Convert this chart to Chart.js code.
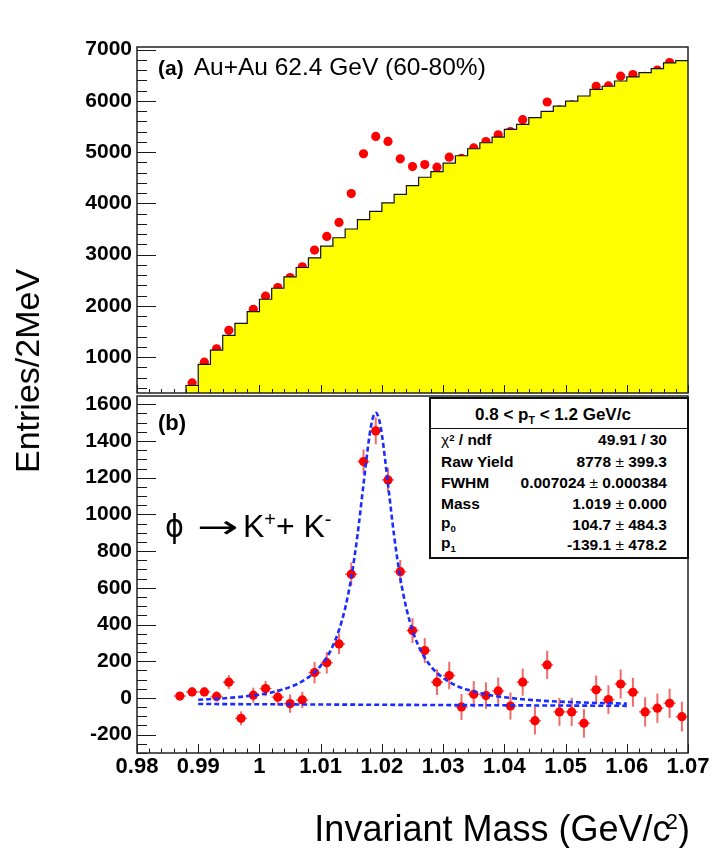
<!DOCTYPE html>
<html>
<head>
<meta charset="utf-8">
<script src="https://cdn.jsdelivr.net/npm/chart.js@4.4.0/dist/chart.umd.min.js"></script>
<style>
  body { margin: 0; background: #fff; }
  #wrap { position: relative; width: 712px; height: 848px; overflow: hidden;
          font-family: "Liberation Sans", Arial, Helvetica, sans-serif; color: #000; }
  canvas { position: absolute; left: 0; top: 0; }
  .txt { position: absolute; white-space: nowrap; line-height: 1; }
  .sup { font-size: 0.62em; position: relative; top: -0.55em; }
  .sub { font-size: 0.62em; position: relative; top: 0.4em; }
  #stats { position: absolute; left: 429px; top: 397px; width: 260px; height: 162px;
           box-sizing: border-box; border: 2px solid #111; background: #fff; font-weight: bold; }
  #stats .title { position: absolute; left: 0; right: 12px; top: 7px; text-align: center; font-size: 17px; line-height: 1; white-space: nowrap; }
  #stats .sep { position: absolute; left: 0; right: 0; top: 29px; border-top: 1.5px solid #111; }
  #stats .row { position: absolute; left: 10px; right: 20px; font-size: 15.5px; line-height: 1; white-space: nowrap; }
  #stats .row .v { position: absolute; right: 0; top: 0; }
  #stats .pm { font-weight: normal; }
</style>
</head>
<body>
<div id="wrap">
  <canvas id="topPanel" width="712" height="848"></canvas>
  <canvas id="bottomPanel" width="712" height="848"></canvas>

  <div class="txt" style="left:158px; top:55px; font-size:24.5px;"><b style="font-size:21px;">(a)</b><span style="margin-left:10px;">Au+Au 62.4 GeV (60-80%)</span></div>
  <div class="txt" style="left:158px; top:412px; font-size:22px; font-weight:bold;">(b)</div>
  <div class="txt" style="left:165px; top:510px; font-size:32px; font-family:'DejaVu Sans', sans-serif; transform:scaleX(0.9); transform-origin:left;">ϕ</div>
  <div class="txt" style="left:197px; top:511px; font-size:32px; font-family:'DejaVu Sans', sans-serif; transform:scaleX(1.55); transform-origin:left;">→</div>
  <div class="txt" style="left:243px; top:510px; font-size:32px;">K<span class="sup">+</span>+ K<span class="sup">-</span></div>

  <div id="stats">
    <div class="title">0.8 &lt; p<span class="sub">T</span> &lt; 1.2 GeV/c</div>
    <div class="sep"></div>
    <div class="row" style="top:33px;"><span style="font-weight:normal;">χ</span><span class="sup" style="top:-0.45em;">2</span> / ndf<span class="v">49.91 / 30</span></div>
    <div class="row" style="top:55px;">Raw Yield<span class="v">8778 <span class="pm">±</span> 399.3</span></div>
    <div class="row" style="top:76px;">FWHM<span class="v">0.007024 <span class="pm">±</span> 0.000384</span></div>
    <div class="row" style="top:97px;">Mass<span class="v">1.019 <span class="pm">±</span> 0.000</span></div>
    <div class="row" style="top:116px;">p<span class="sub">0</span><span class="v" style="top:2px;">104.7 <span class="pm">±</span> 484.3</span></div>
    <div class="row" style="top:136px;">p<span class="sub">1</span><span class="v" style="top:2px;">-139.1 <span class="pm">±</span> 478.2</span></div>
  </div>

  <div class="txt" style="left:27px; top:371px; font-size:34px; transform:translate(-50%,-50%) rotate(-90deg);">Entries/2MeV</div>
  <div class="txt" style="right:22px; top:811px; font-size:36px;">Invariant Mass (GeV/c<span class="sup" style="margin-left:-0.22em;">2</span>)</div>
</div>

<script>
// bin centres (2 MeV bins)
const massBins = [0.987, 0.989, 0.991, 0.993, 0.995, 0.997, 0.999, 1.001, 1.003, 1.005,
                  1.007, 1.009, 1.011, 1.013, 1.015, 1.017, 1.019, 1.021, 1.023, 1.025,
                  1.027, 1.029, 1.031, 1.033, 1.035, 1.037, 1.039, 1.041, 1.043, 1.045,
                  1.047, 1.049, 1.051, 1.053, 1.055, 1.057, 1.059, 1.061, 1.063, 1.065,
                  1.067, 1.069];
const binWidth = 0.002;

// (a) mixed-event background (yellow histogram)
const mixedEvent = [0, 446, 857, 1137, 1425, 1660, 1887, 2129, 2344, 2566,
                    2748, 2937, 3166, 3329, 3499, 3681, 3844, 4008, 4176, 4346,
                    4509, 4620, 4783, 4928, 5065, 5182, 5292, 5442, 5540, 5671,
                    5795, 5898, 5996, 6094, 6225, 6284, 6387, 6466, 6552, 6630,
                    6740, 6786];
// (a) same-event pairs (red dots)
const sameEvent = [null, 497, 902, 1163, 1522, 1549, 1933, 2188, 2357, 2553,
                   2761, 3088, 3354, 3628, 4190, 4967, 5305, 5207, 4868, 4718,
                   4757, 4705, 4900, 4880, 5082, 5205, 5336, 5400, 5632, 5547,
                   5977, 5822, 5920, 5956, 6284, 6290, 6480, 6512, 6476, 6600,
                   6747, 6684];
// (b) background subtracted
const signal = [10, 33, 33, 8, 86, -111, 15, 51, 4, -31,
                -11, 138, 192, 294, 674, 1288, 1455, 1188, 688, 367,
                258, 86, 122, -49, 20, 13, 38, -44, 86, -124,
                180, -76, -76, -138, 44, -9, 76, 31, -76, -56,
                -29, -102];
const signalErr = [22, 25, 25, 28, 38, 38, 41, 42, 45, 50,
                   45, 59, 59, 55, 64, 66, 73, 66, 64, 68,
                   68, 70, 75, 71, 72, 72, 73, 74, 74, 75,
                   77, 76, 77, 78, 78, 78, 79, 79, 80, 80,
                   80, 81];
// (b) fit curve (Breit-Wigner + linear)
const fitMass  = [0.990, 0.995, 1.000, 1.002, 1.004, 1.006, 1.008, 1.009, 1.010, 1.011,
                  1.012, 1.013, 1.014, 1.015, 1.016, 1.017, 1.018, 1.0185, 1.019, 1.0195,
                  1.020, 1.021, 1.022, 1.023, 1.024, 1.025, 1.026, 1.027, 1.028, 1.029,
                  1.030, 1.032, 1.034, 1.036, 1.038, 1.044, 1.052, 1.060];
const fitValue = [-10, 0, 18, 30, 48, 73, 112, 139, 175, 221,
                  284, 370, 489, 656, 883, 1165, 1435, 1523, 1554, 1523,
                  1435, 1164, 883, 655, 488, 368, 282, 219, 172, 136,
                  109, 69, 44, 26, 13, -10, -24, -31];
// (b) linear residual background
const bgMass  = [0.990, 1.060];
const bgValue = [-33, -43];

// axis ticks
const massTicks = [0.98, 0.99, 1.00, 1.01, 1.02, 1.03, 1.04, 1.05, 1.06, 1.07];
const topTicks = [1000, 2000, 3000, 4000, 5000, 6000, 7000];
const bottomTicks = [-200, 0, 200, 400, 600, 800, 1000, 1200, 1400, 1600];

const FONT = '"Liberation Sans", Arial, Helvetica, sans-serif';

// ROOT style frame with ticks pointing inwards
const rootFrame = {
  id: 'rootFrame',
  afterDraw(chart, args, o) {
    const { ctx, chartArea: a } = chart;
    const x = chart.scales.x, y = chart.scales.y;
    ctx.save();
    ctx.strokeStyle = '#1a1a1a';
    ctx.lineWidth = 1;
    const ticks = (scale, minor, every, majLen, minLen, vertical) => {
      const n0 = Math.ceil(scale.min / minor - 1e-6), n1 = Math.floor(scale.max / minor + 1e-6);
      for (let n = n0; n <= n1; n++) {
        const len = (n % every === 0) ? majLen : minLen;
        const p = Math.round(scale.getPixelForValue(n * minor)) + 0.5;
        ctx.beginPath();
        if (vertical) { ctx.moveTo(a.left, p); ctx.lineTo(a.left + len, p); }
        else { ctx.moveTo(p, a.bottom); ctx.lineTo(p, a.bottom - len); }
        ctx.stroke();
      }
    };
    ticks(x, o.xMinor, 5, o.xMaj, o.xMin, false);
    ticks(y, o.yMinor, o.yEvery, 19, 10, true);
    ctx.lineWidth = 1.5;
    ctx.strokeStyle = '#222';
    ctx.strokeRect(a.left, a.top, a.width, a.height);
    ctx.restore();
  }
};

// error bars for panel (b)
const errorBars = {
  id: 'errorBars',
  beforeDatasetsDraw(chart) {
    const { ctx, chartArea: a } = chart;
    const x = chart.scales.x, y = chart.scales.y;
    ctx.save();
    ctx.beginPath();
    ctx.rect(a.left, a.top, a.width, a.height);
    ctx.clip();
    ctx.strokeStyle = '#f26b6b';
    massBins.forEach((m, i) => {
      const px = x.getPixelForValue(m), py = y.getPixelForValue(signal[i]);
      ctx.lineWidth = 2;
      ctx.beginPath();
      ctx.moveTo(px, y.getPixelForValue(signal[i] - signalErr[i]));
      ctx.lineTo(px, y.getPixelForValue(signal[i] + signalErr[i]));
      ctx.stroke();
      ctx.lineWidth = 1.5;
      ctx.beginPath();
      ctx.moveTo(x.getPixelForValue(m - binWidth / 2), py);
      ctx.lineTo(x.getPixelForValue(m + binWidth / 2), py);
      ctx.stroke();
    });
    ctx.restore();
  }
};

function yAxis(min, max, tickList, size) {
  return {
    type: 'linear', min, max,
    grid: { display: false, drawTicks: false },
    border: { display: false },
    afterBuildTicks: s => { s.ticks = tickList.map(v => ({ value: v })); },
    afterFit: s => { s.width = 137; },
    ticks: { color: '#000', padding: 5, font: { family: FONT, size, weight: 'bold' }, callback: v => String(v) }
  };
}

// histogram steps: value held from each bin's low edge to the next
const histPoints = massBins.map((m, i) => ({ x: m - binWidth / 2, y: mixedEvent[i] }));
histPoints.push({ x: massBins[massBins.length - 1] + binWidth / 2, y: mixedEvent[mixedEvent.length - 1] });

new Chart(document.getElementById('topPanel'), {
  type: 'scatter',
  data: {
    datasets: [
      { data: histPoints, showLine: true, stepped: true, fill: 'start',
        backgroundColor: '#ffff00', borderColor: '#111', borderWidth: 1.2, pointRadius: 0, order: 0 },
      { data: massBins.map((m, i) => ({ x: m, y: sameEvent[i] })),
        pointRadius: 4.6, backgroundColor: '#ff0000', borderWidth: 0, order: 1 }
    ]
  },
  options: {
    responsive: false, animation: false,
    layout: { padding: { top: 47, right: 24, bottom: 455, left: 0 } },
    plugins: {
      legend: { display: false }, tooltip: { enabled: false },
      rootFrame: { xMinor: 0.002, xMaj: 8, xMin: 4, yMinor: 200, yEvery: 5 }
    },
    scales: {
      x: { type: 'linear', min: 0.98, max: 1.07,
           grid: { display: false, drawTicks: false }, border: { display: false },
           ticks: { display: false }, afterFit: s => { s.height = 0; } },
      y: yAxis(300, 7050, topTicks, 21)
    }
  },
  plugins: [rootFrame]
});

new Chart(document.getElementById('bottomPanel'), {
  type: 'scatter',
  data: {
    datasets: [
      { data: fitMass.map((m, i) => ({ x: m, y: fitValue[i] })), showLine: true,
        cubicInterpolationMode: 'monotone', borderColor: '#1a2cff', borderWidth: 2.6,
        borderDash: [5, 3], pointRadius: 0, order: 0 },
      { data: bgMass.map((m, i) => ({ x: m, y: bgValue[i] })), showLine: true,
        borderColor: '#1a2cff', borderWidth: 2.6, borderDash: [5, 3], pointRadius: 0, order: 0 },
      { data: massBins.map((m, i) => ({ x: m, y: signal[i] })),
        pointRadius: 4.6, backgroundColor: '#ff0000', borderWidth: 0, order: 1 }
    ]
  },
  options: {
    responsive: false, animation: false,
    layout: { padding: { top: 396, right: 24, bottom: 0, left: 0 } },
    plugins: {
      legend: { display: false }, tooltip: { enabled: false },
      rootFrame: { xMinor: 0.002, xMaj: 9, xMin: 4.5, yMinor: 50, yEvery: 4 }
    },
    scales: {
      x: { type: 'linear', min: 0.98, max: 1.07,
           grid: { display: false, drawTicks: false }, border: { display: false },
           afterBuildTicks: s => { s.ticks = massTicks.map(v => ({ value: v })); },
           afterFit: s => { s.height = 95; },
           ticks: { color: '#000', padding: 1, maxRotation: 0, autoSkip: false,
                    font: { family: FONT, size: 22, weight: 'bold' },
                    callback: v => String(+v.toFixed(2)) } },
      y: yAxis(-300, 1645, bottomTicks, 21)
    }
  },
  plugins: [errorBars, rootFrame]
});
</script>
</body>
</html>
